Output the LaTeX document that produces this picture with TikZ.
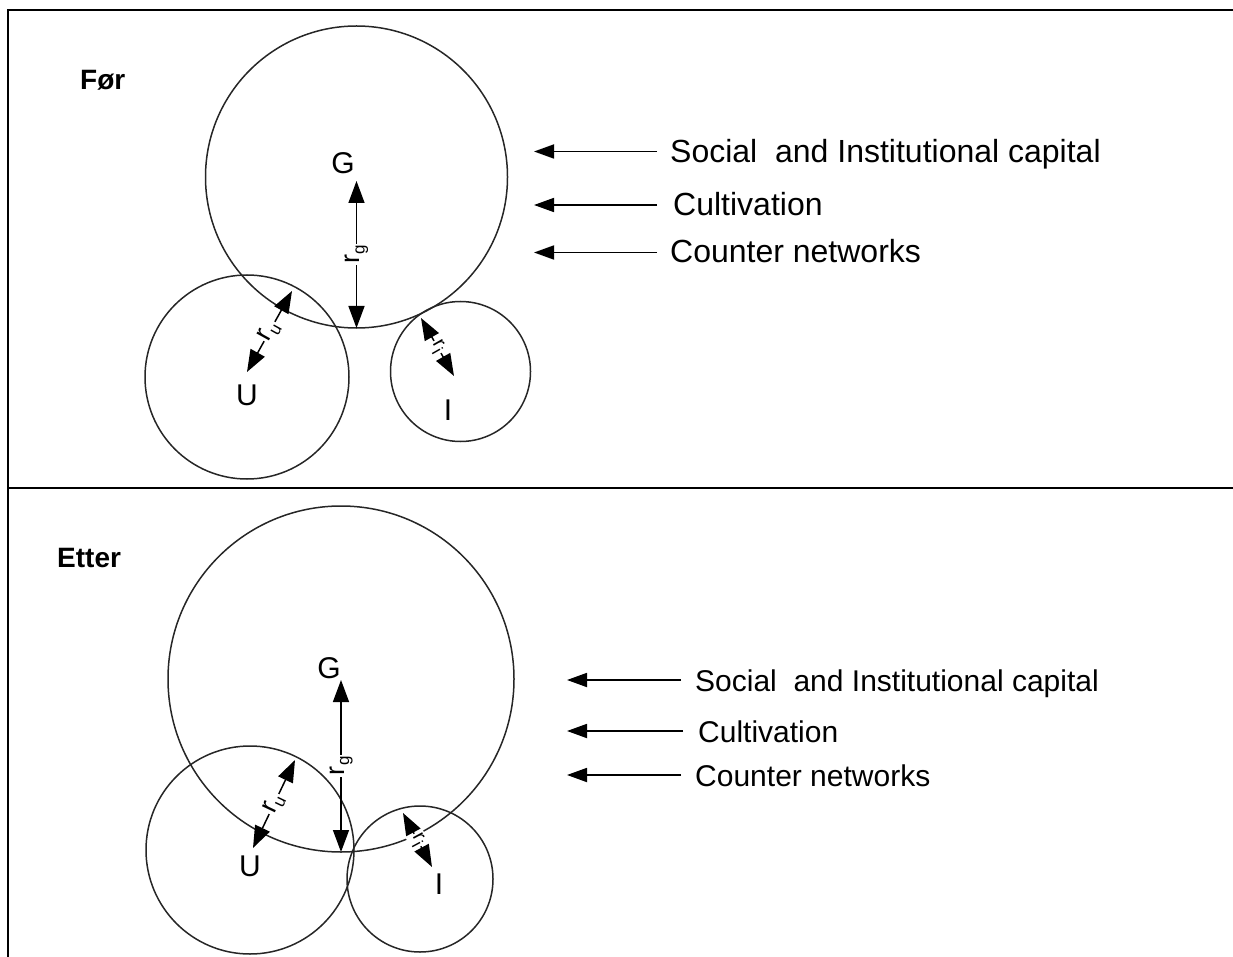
\documentclass[tikz,border=0pt]{standalone}
\usepackage{fontspec}
\setmainfont{Liberation Sans}
\usetikzlibrary{arrows.meta}
\newcommand\radsub[1]{r\kern0.5pt\raisebox{-5pt}{\fontsize{17}{17}\selectfont #1}}
\begin{document}
\begin{tikzpicture}[x=1pt,y=-1pt,
  ring/.style={circle,draw=black!85,line width=1.5pt,inner sep=0pt,outer sep=0pt},
  frameline/.style={line width=2.8pt},
  radius arrow/.style={line width=1.5pt,{Triangle[length=22pt,width=16pt]}-{Triangle[length=22pt,width=16pt]}},
  side arrow/.style={line width=1.8pt,-{Triangle[length=20pt,width=14pt]}},
  rlabel/.style={fill=white,inner sep=1.5pt,sloped,midway,font=\fontsize{27}{27}\selectfont},
  letter/.style={inner sep=0pt,font=\fontsize{30}{30}\selectfont},
  title/.style={inner sep=0pt,anchor=base west,font=\fontsize{28}{28}\selectfont\bfseries},
  toptext/.style={inner sep=0pt,anchor=base west,font=\fontsize{32}{32}\selectfont},
  bottext/.style={inner sep=0pt,anchor=base west,font=\fontsize{30}{30}\selectfont}]
\useasboundingbox (0,0) rectangle (1233,957);

% frame and divider
\draw[frameline] (8,960) -- (8,10) -- (1233,10);
\draw[frameline] (8,488) -- (1233,488);

% ---------------- upper panel ----------------
\node[title] (before) at (80,90) {Før};
\node[ring,minimum size=302pt] (G1) at (356.5,177) {};
\node[ring,minimum size=204pt] (U1) at (247,377) {};
\node[ring,minimum size=140pt] (I1) at (460.5,371.5) {};
\node[letter] (Gl1) at (343,163) {G};
\node[letter] (Ul1) at (247,395) {U};
\node[letter] (Il1) at (448,410) {I};

\coordinate (g1t) at (356.5,181);
\coordinate (u1a) at (247,372);
\coordinate (u1b) at (292,291);
\coordinate (i1a) at (421,318);
\coordinate (i1b) at (454,376);
\draw[radius arrow] (G1.south) -- node[rlabel] {\radsub{g}} (g1t);
\draw[radius arrow] (u1a) -- node[rlabel] {\radsub{u}} (u1b);
\draw[radius arrow] (i1a) -- node[rlabel,font=\fontsize{20}{20}\selectfont] {\radsub{i}} (i1b);

\node[toptext] (t1) at (670,162.5) {Social\ \ and Institutional capital};
\node[toptext] (t2) at (673,216) {Cultivation};
\node[toptext] (t3) at (670,263) {Counter networks};
\coordinate (a1s) at (657,151.5);
\coordinate (a1e) at (534,151.5);
\coordinate (a2s) at (657,205);
\coordinate (a2e) at (534,205);
\coordinate (a3s) at (657,252.5);
\coordinate (a3e) at (534,252.5);
\draw[side arrow] (a1s) -- (a1e);
\draw[side arrow] (a2s) -- (a2e);
\draw[side arrow] (a3s) -- (a3e);

% ---------------- lower panel ----------------
\node[title] (after) at (57,567) {Etter};
\node[ring,minimum size=346pt] (G2) at (341,679) {};
\node[ring,minimum size=208pt] (U2) at (250,850) {};
\node[ring,minimum size=146pt] (I2) at (420,879) {};
\node[letter] (Gl2) at (329,668) {G};
\node[letter] (Ul2) at (250,866) {U};
\node[letter] (Il2) at (439,884) {I};

\coordinate (g2t) at (341,680);
\coordinate (u2a) at (253,848);
\coordinate (u2b) at (295,760);
\coordinate (i2a) at (403,813);
\coordinate (i2b) at (432,867);
\draw[radius arrow] (G2.south) -- node[rlabel] {\radsub{g}} (g2t);
\draw[radius arrow] (u2a) -- node[rlabel] {\radsub{u}} (u2b);
\draw[radius arrow] (i2a) -- node[rlabel,font=\fontsize{20}{20}\selectfont] {\radsub{i}} (i2b);

\node[bottext] (b1) at (695,691) {Social\ \ and Institutional capital};
\node[bottext] (b2) at (698,742) {Cultivation};
\node[bottext] (b3) at (695,786) {Counter networks};
\coordinate (c1s) at (681,680);
\coordinate (c1e) at (567,680);
\coordinate (c2s) at (683,731);
\coordinate (c2e) at (567,731);
\coordinate (c3s) at (681,775);
\coordinate (c3e) at (567,775);
\draw[side arrow] (c1s) -- (c1e);
\draw[side arrow] (c2s) -- (c2e);
\draw[side arrow] (c3s) -- (c3e);
\end{tikzpicture}
\end{document}
